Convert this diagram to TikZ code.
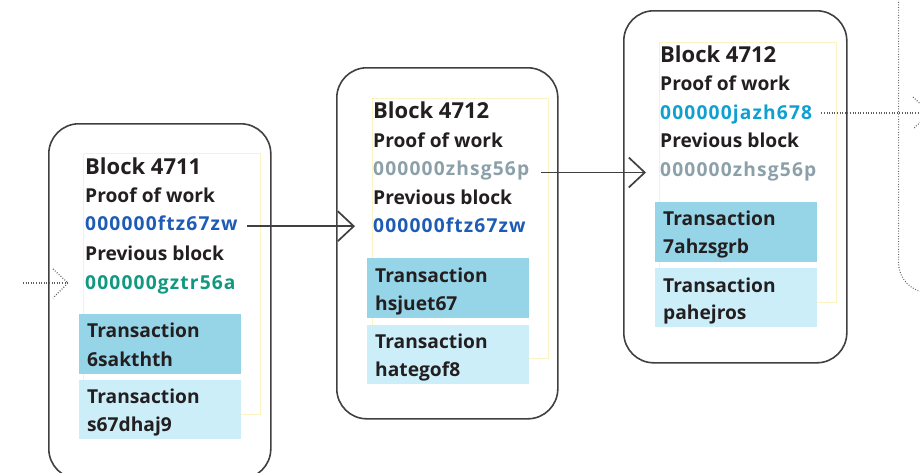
\documentclass[tikz,border=0pt]{standalone}
\usepackage{fontspec}
\setmainfont{Open Sans}
\newfontfamily\hashfont{Open Sans}[LetterSpace=6]
\usetikzlibrary{arrows.meta,calc}
\definecolor{ink}{HTML}{231F20}
\definecolor{hblue}{HTML}{1E5BB5}
\definecolor{hgreen}{HTML}{109880}
\definecolor{hgray}{HTML}{8CA0AA}
\definecolor{hcyan}{HTML}{10A0D0}
\definecolor{txdark}{HTML}{96D4E8}
\definecolor{txlight}{HTML}{CCEEF9}
\definecolor{guidecol}{HTML}{FBF3C2}
\definecolor{edge}{HTML}{404040}
\tikzset{
  blockbox/.style={draw=edge, line width=1.6pt, rounded corners=30pt, anchor=north west, inner sep=0pt},
  nextbox/.style={draw=edge!80, line width=1.1pt, dash pattern=on 0.9pt off 1.7pt, rounded corners=30pt, anchor=north west, inner sep=0pt},
  guide/.style={draw=guidecol, line width=0.6pt},
  txt/.style={anchor=base west, inner sep=0pt, font=\fontsize{19.2}{22}\selectfont\bfseries, text=ink},
  hashtxt/.style={anchor=base west, inner sep=0pt, font=\hashfont\fontsize{19.2}{22}\selectfont\bfseries},
  titletxt/.style={txt, font=\fontsize{22}{26}\selectfont\bfseries},
  darktx/.style={fill=txdark, anchor=north west, inner sep=0pt, minimum width=162pt, minimum height=60pt},
  lighttx/.style={fill=txlight, anchor=north west, inner sep=0pt, minimum width=162pt, minimum height=59pt},
  arr/.style={draw=edge, line width=1.8pt, -{Straight Barb[length=16pt, width=30pt, line width=1.7pt]}},
  dotline/.style={draw=edge!85, line width=1.1pt, dash pattern=on 0.9pt off 1.7pt},
}
\begin{document}
\begin{tikzpicture}[x=1pt,y=-1pt]
\useasboundingbox (0,0) rectangle (920,472);
\clip (0,0) rectangle (920,472);

% next (future) block, dotted
\node[nextbox, minimum width=200pt, minimum height=352pt] (nb) at (898,-60) {};

% ---------- Block 1 ----------
\node[blockbox, minimum width=222pt, minimum height=355pt] (b1) at (48,123) {};
\draw[guide] (83,153) rectangle (260,414);
\node[titletxt] (b1t) at (85,174) {Block 4711};
\node[txt] (b1pw) at (85,202.7) {Proof of work};
\node[hashtxt, text=hblue] (b1h) at (85,230.7) {000000ftz67zw};
\node[txt] (b1pb) at (85,260) {Previous block};
\node[hashtxt, text=hgreen] (b1p) at (85,289) {000000gztr56a};
\node[darktx] (b1x1) at (79,313.3) {};
\node[txt] (b1x1a) at (87,337.7) {Transaction};
\node[txt] (b1x1b) at (87,366) {6sakthth};
\node[lighttx] (b1x2) at (79,380) {};
\node[txt] (b1x2a) at (87,403.3) {Transaction};
\node[txt] (b1x2b) at (87,431.7) {s67dhaj9};

% ---------- Block 2 ----------
\node[blockbox, minimum width=221pt, minimum height=351pt] (b2) at (336,67) {};
\draw[guide] (372,98) rectangle (548,358);
\node[titletxt] (b2t) at (373,118) {Block 4712};
\node[txt] (b2pw) at (373,147) {Proof of work};
\node[hashtxt, text=hgray] (b2h) at (373,175) {000000zhsg56p};
\node[txt] (b2pb) at (373,204) {Previous block};
\node[hashtxt, text=hblue] (b2p) at (373,232.7) {000000ftz67zw};
\node[darktx] (b2x1) at (367,258) {};
\node[txt] (b2x1a) at (375,282) {Transaction};
\node[txt] (b2x1b) at (375,310) {hsjuet67};
\node[lighttx] (b2x2) at (367,325) {};
\node[txt] (b2x2a) at (375,348) {Transaction};
\node[txt] (b2x2b) at (375,376) {hategof8};

% ---------- Block 3 ----------
\node[blockbox, minimum width=223pt, minimum height=352pt] (b3) at (623,10) {};
\draw[guide] (659,42) rectangle (836,302);
\node[titletxt] (b3t) at (660,62) {Block 4712};
\node[txt] (b3pw) at (660,90.7) {Proof of work};
\node[hashtxt, text=hcyan] (b3h) at (660,119) {000000jazh678};
\node[txt] (b3pb) at (660,147) {Previous block};
\node[hashtxt, text=hgray] (b3p) at (660,176) {000000zhsg56p};
\node[darktx] (b3x1) at (655,202) {};
\node[txt] (b3x1a) at (663,225) {Transaction};
\node[txt] (b3x1b) at (663,253) {7ahzsgrb};
\node[lighttx] (b3x2) at (655,268) {};
\node[txt] (b3x2a) at (663,292) {Transaction};
\node[txt] (b3x2b) at (663,319) {pahejros};

% ---------- connectors ----------
\coordinate (a1s) at ([xshift=9pt,yshift=4.5pt]b1h.base east);
\coordinate (a1e) at ([xshift=-18pt]b2p.base west);
\draw[arr] (a1s) -- (a1s -| a1e);

\coordinate (a2s) at ([xshift=12pt,yshift=2.5pt]b2h.base east);
\coordinate (a2e) at ([xshift=-14pt]b3p.base west);
\draw[arr] (a2s) -- (a2s -| a2e);

% incoming dotted arrow
\coordinate (inS) at (23,283);
\coordinate (inE) at ([xshift=-17pt,yshift=6pt]b1p.base west);
\draw[dotline] (inS) -- (inS -| inE);
\draw[dotline] ($(inS -| inE)+(-15,-14)$) -- (inS -| inE) -- ($(inS -| inE)+(-15,15)$);

% outgoing dotted arrow
\coordinate (outS) at ([xshift=9pt,yshift=6pt]b3h.base east);
\coordinate (outE) at (930,113);
\draw[dotline] (outS) -- (outS -| outE);
\draw[dotline] ($(outS -| outE)+(-17,-16)$) -- (outS -| outE) -- ($(outS -| outE)+(-17,16)$);
\end{tikzpicture}
\end{document}
